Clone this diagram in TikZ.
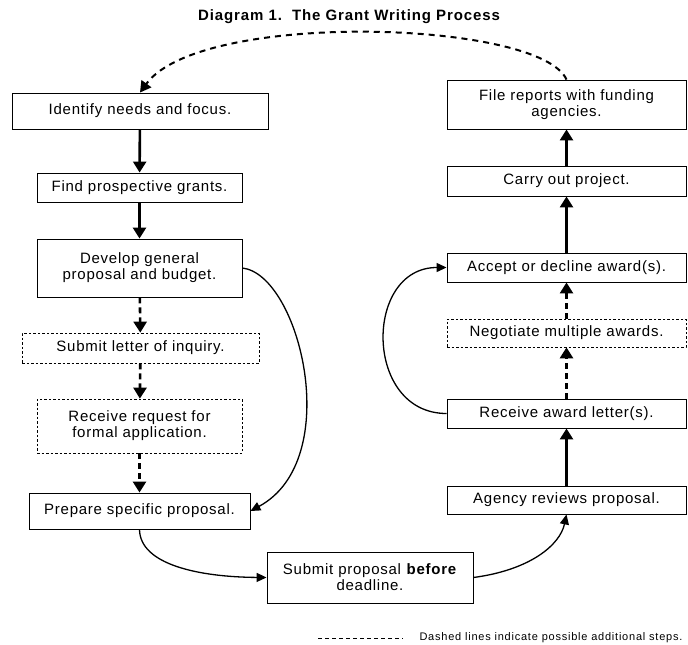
\documentclass[tikz,border=0pt]{standalone}
\usepackage{fontspec}
\setmainfont{Liberation Sans}
\newfontfamily\boxfont{Liberation Sans}[LetterSpace=5]
\newfontfamily\titlefont{Liberation Sans}[LetterSpace=6]
\newfontfamily\notefont{Liberation Sans}[LetterSpace=7]
\usetikzlibrary{arrows.meta}

\begin{document}
\begin{tikzpicture}[x=1pt,y=-1pt,
  every node/.style={font=\boxfont\fontsize{15}{16}\selectfont},
  stepbox/.style={draw,line width=0.9pt,inner sep=0pt,align=center},
  optbox/.style={stepbox,line width=0.7pt,dash pattern=on 2.5pt off 2pt},
  mainarrow/.style={line width=2.6pt,-{Triangle[length=11pt,width=13pt]}},
  optarrow/.style={mainarrow,dash pattern=on 6pt off 4pt},
  bendarrow/.style={line width=1.3pt,-{Triangle[length=10pt,width=9pt]}},
  backarrow/.style={line width=2pt,dash pattern=on 6pt off 5pt,
    -{Triangle[length=11pt,width=12pt]}}
]
\useasboundingbox (0,0) rectangle (688,645);

% the title
\node[font=\titlefont\bfseries\fontsize{15}{18}\selectfont] (title) at (349,17)
  {Diagram 1.\ \ The Grant Writing Process};

% the left column
\node[stepbox,minimum width=256pt,minimum height=36pt] (ident) at (140,111) {Identify needs and focus.};
\node[stepbox,minimum width=205pt,minimum height=29pt] (find) at (139.5,187.5) {Find prospective grants.};
\node[stepbox,minimum width=205pt,minimum height=58pt] (develop) at (139.5,268) {Develop general\\proposal and budget.};
\node[optbox,minimum width=237pt,minimum height=30pt] (letter) at (140.5,348) {Submit letter of inquiry.};
\node[optbox,minimum width=205pt,minimum height=54pt] (request) at (139.5,426) {Receive request for\\formal application.};
\node[stepbox,minimum width=221pt,minimum height=36pt] (prepare) at (139.5,511) {Prepare specific proposal.};

% the bottom box
\node[stepbox,minimum width=206pt,minimum height=51pt] (submit) at (370,577.5) {Submit proposal \textbf{before}\\deadline.};

% the right column
\node[stepbox,minimum width=239pt,minimum height=28pt] (agency) at (566.5,500) {Agency reviews proposal.};
\node[stepbox,minimum width=239pt,minimum height=29pt] (award) at (566.5,413.5) {Receive award letter(s).};
\node[optbox,minimum width=239pt,minimum height=28pt] (negot) at (566.5,333) {Negotiate multiple awards.};
\node[stepbox,minimum width=239pt,minimum height=29pt] (accept) at (566.5,267.5) {Accept or decline award(s).};
\node[stepbox,minimum width=239pt,minimum height=30pt] (carry) at (566.5,181) {Carry out project.};
\node[stepbox,minimum width=239pt,minimum height=49pt] (file) at (566.5,104.5) {File reports with funding\\agencies.};

% the legend
\node[anchor=west,font=\notefont\fontsize{11}{13}\selectfont] (legend) at (416,638)
  {Dashed lines indicate possible additional steps.};
\coordinate (legA) at (318,638);
\coordinate (legB) at (403,638);
\draw[line width=0.8pt,dash pattern=on 4pt off 3pt] (legA) -- (legB);

% the straight links
\foreach \a/\b in {ident/find,find/develop,agency/award,accept/carry,carry/file}
  \draw[mainarrow] (\a) -- (\b);
\foreach \a/\b in {develop/letter,letter/request,request/prepare,award/negot,negot/accept}
  \draw[optarrow] (\a) -- (\b);

% the curved links
\draw[bendarrow] (develop.east) .. controls (300,275) and (345,460) .. (prepare.east);
\draw[bendarrow] (prepare.south) .. controls (140,565) and (200,577) .. (submit.west);
\draw[bendarrow] (submit.east) .. controls (530,570) and (560,545) .. (agency.south);
\draw[bendarrow] (award.west) .. controls +(-83,0) and +(-83,0) .. (accept.west);

% back to the start
\draw[backarrow] (file.north) .. controls (540,20) and (200,10) .. (ident.north);
\end{tikzpicture}
\end{document}
